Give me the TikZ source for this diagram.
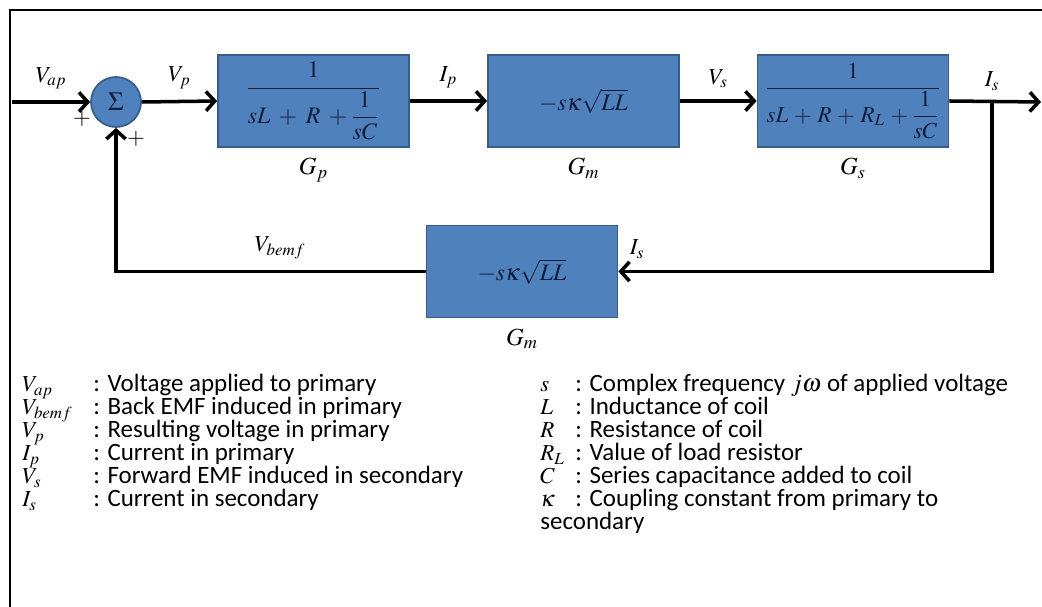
\documentclass[tikz,border=0pt]{standalone}
\usepackage{mathptmx}
\usepackage[no-math]{fontspec}
\setmainfont{Carlito}
\usetikzlibrary{arrows.meta,positioning}
\definecolor{bdBlue} {RGB}{ 79,129,189}
\definecolor{bdBlueD}{RGB}{ 56, 93,138}
\definecolor{bdInk}  {RGB}{ 20, 30, 60}
\newcommand{\symL}[1]{\makebox[1.42cm][l]{\fontsize{13}{13}\selectfont$#1$}}
\newcommand{\symR}[1]{\makebox[0.7cm][l]{\fontsize{13}{13}\selectfont$#1$}}
\lineskiplimit=-20pt

\begin{document}
\begin{tikzpicture}[
  every node/.style={font=\fontsize{13}{15}\selectfont},
  blk/.style={draw=bdBlueD,fill=bdBlue,line width=1pt,minimum width=3.82cm,minimum height=1.84cm,
              inner sep=0pt,text=bdInk,font=\fontsize{13.5}{16}\selectfont},
  sumnode/.style={circle,draw=bdBlueD,fill=bdBlue,line width=1pt,minimum size=1cm,inner sep=0pt,
                  text=bdInk,font=\fontsize{15}{17}\selectfont},
  sig/.style={line width=2pt,-{Straight Barb[length=5pt,width=11pt]}},
  gain/.style={below=0.08cm,font=\fontsize{14}{16}\selectfont},
  legend/.style={anchor=north west,inner sep=0pt,align=left,font=\fontsize{14.2}{13.1}\selectfont}
]
\useasboundingbox (0,0) rectangle (20.84,12.12);
\clip (0,0) rectangle (20.84,12.12);
\draw[line width=1.3pt] (0.2,-1) rectangle (21.5,11.92);

% forward path
\coordinate (IN)  at (0.24,10.08);
\node[sumnode] (SUM) at (2.32,10.08) {$\Sigma$};
\node[blk] (GP) at (6.27,10.1)
  {$\displaystyle\frac{1}{sL\;+\;R\;+\displaystyle\frac{1}{sC}}$};
\node[blk] (GM) at (11.67,10.1) {$-s\kappa\sqrt{LL}$};
\node[blk,font=\fontsize{13}{16}\selectfont] (GS) at (17.06,10.1)
  {$\displaystyle\frac{1}{sL\mkern2mu+\mkern2mu R\mkern2mu+\mkern2mu R_L\mkern2mu+\displaystyle\frac{1}{sC}}$};
\node[gain] (GPL) at (GP.south) {$G_p$};
\node[gain] (GML) at (GM.south) {$G_m$};
\node[gain] (GSL) at (GS.south) {$G_s$};
\coordinate (BR)  at (19.84,10.08);
\coordinate (OUT) at (20.82,10.08);

% feedback path
\node[blk] (GMF) at (10.44,6.69) {$-s\kappa\sqrt{LL}$};
\node[gain] (GMFL) at (GMF.south) {$G_m$};
\coordinate (BRD) at (19.84,6.69);
\coordinate (FBL) at (2.32,6.69);

\node (PL1) at (1.64,9.74) {$+$};
\node (PL2) at (2.72,9.34) {$+$};

\draw[sig] (IN) -- node[above=3pt] (LVAP) {$V_{ap}$} (SUM.west);
\draw[sig] (SUM.east) -- node[above=3pt] (LVP) {$V_p$} (GP.west);
\draw[sig] (GP.east) -- node[above=3pt] (LIP) {$I_p$} (GM.west);
\draw[sig] (GM.east) -- node[above=3pt] (LVS) {$V_s$} (GS.west);
\draw[sig] (GS.east) -- (OUT);
\node[above=3pt] (LIS) at (BR) {$I_s$};
\draw[sig] (BR) -- (BRD) -- node[above=3pt,pos=0.95] (LISF) {$I_s$} (GMF.east);
\draw[sig] (GMF.west) -- node[above=3pt,pos=0.47] (LVB) {$V_{bemf}$} (FBL) -- (SUM.south);

% legend
\node[legend] (LEGL) at (0.44,4.64) {%
  \symL{V_{ap}}: Voltage applied to primary\\
  \symL{V_{bemf}}: Back EMF induced in primary\\
  \symL{V_p}: Resulting voltage in primary\\
  \symL{I_p}: Current in primary\\
  \symL{V_s}: Forward EMF induced in secondary\\
  \symL{I_s}: Current in secondary};
\node[legend] (LEGR) at (10.8,4.64) {%
  \symR{s}: Complex frequency $j\omega$ of applied voltage\\
  \symR{L}: Inductance of coil\\
  \symR{R}: Resistance of coil\\
  \symR{R_L}: Value of load resistor\\
  \symR{C}: Series capacitance added to coil\\
  \symR{\kappa}: Coupling constant from primary to\\
  secondary};
\end{tikzpicture}
\end{document}
